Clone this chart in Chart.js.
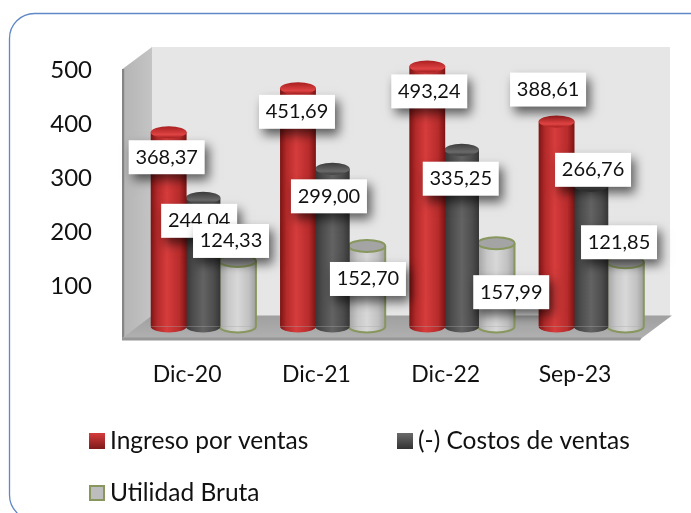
<!DOCTYPE html>
<html><head><meta charset="utf-8">
<style>html,body{margin:0;padding:0;background:#fff}#w{width:691px;height:513px;position:relative}canvas{display:block}</style>
<script src="https://cdn.jsdelivr.net/npm/chart.js@4/dist/chart.umd.min.js"></script>
</head><body><div id="w"><canvas id="c" width="691" height="513"></canvas></div>
<script>
const categories = ['Dic-20','Dic-21','Dic-22','Sep-23'];
const ingreso = [368.37,451.69,493.24,388.61];
const costos = [244.04,299.00,335.25,266.76];
const utilidad = [124.33,152.70,157.99,121.85];
const tickValues = [100,200,300,400,500];
const seriesNames = ['Ingreso por ventas','(-) Costos de ventas','Utilidad Bruta'];
// label box offsets from each bar's top-centre
const labelOffsets = [
  [[-2,25],[-1,23.5],[2,25],[-8.5,-32]],
  [[-4,23],[-3.5,27.5],[-1,29],[2,-16]],
  [[-6.6,-20],[1,33],[15,49],[-6.5,-20]]
];
const looks = [
  {stops:[[0,'#7d1414'],[.18,'#b32a2a'],[.45,'#d63c3c'],[.8,'#b82c2c'],[1,'#7d1414']],cap:['#a81f1f','#e04444'],edge:null},
  {stops:[[0,'#363636'],[.2,'#4c4c4c'],[.5,'#636363'],[.8,'#4e4e4e'],[1,'#363636']],cap:['#3c3c3c','#6a6a6a'],edge:null},
  {stops:[[0,'#a3a3a3'],[.25,'#c8c8c8'],[.5,'#d8d8d8'],[.8,'#c2c2c2'],[1,'#a0a0a0']],cap:['#8f8f8f','#a4a4a4'],edge:'#87975e'}
];
const FONT='Lato, Carlito, sans-serif';
const RY=6;

const scene = {
  id:'scene',
  beforeDraw(chart){
    const c=chart.ctx; c.save();
    c.fillStyle='#fff'; c.fillRect(0,0,691,513);
    // card
    c.strokeStyle='#5f88c6'; c.lineWidth=1.3;
    c.beginPath(); c.roundRect(9.5,13.5,760,506.5,25); c.stroke();
    // back wall
    c.fillStyle='#e6e6e6'; c.fillRect(152,47,518,270);
    // left wall
    let g=c.createLinearGradient(122,0,152,0); g.addColorStop(0,'#b4b4b4'); g.addColorStop(1,'#c4c4c4');
    c.fillStyle=g; c.beginPath(); c.moveTo(122.5,69); c.lineTo(152,47); c.lineTo(152,316); c.lineTo(122.5,338); c.closePath(); c.fill();
    c.fillStyle='#858585'; c.fillRect(122,69,2.2,270);
    // floor
    g=c.createLinearGradient(0,316,0,338); g.addColorStop(0,'#a0a0a0'); g.addColorStop(1,'#b0b0b0');
    c.fillStyle=g; c.beginPath(); c.moveTo(122,338); c.lineTo(152,315.5); c.lineTo(672,315.5); c.lineTo(642,338); c.closePath(); c.fill();
    c.fillStyle='#969696'; c.beginPath(); c.moveTo(122,337.5); c.lineTo(642,337.5); c.lineTo(640,340.5); c.lineTo(122,340.5); c.closePath(); c.fill();
    c.restore();
  },
  beforeDatasetDraw(chart,args){
    const look=looks[args.index];
    chart.getDatasetMeta(args.index).data.forEach(b=>{
      const g=chart.ctx.createLinearGradient(b.x-b.width/2,0,b.x+b.width/2,0);
      look.stops.forEach(s=>g.addColorStop(s[0],s[1]));
      b.options=Object.assign(Object.create(b.options),{backgroundColor:g});
    });
  },
  afterDatasetDraw(chart,args){
    const c=chart.ctx, look=looks[args.index];
    chart.getDatasetMeta(args.index).data.forEach(b=>{
      const rx=b.width/2;
      c.save();
      // rounded foot
      const g=c.createLinearGradient(b.x-rx,0,b.x+rx,0);
      look.stops.forEach(s=>g.addColorStop(s[0],s[1]));
      c.fillStyle=g;
      c.beginPath(); c.ellipse(b.x,b.base,rx,RY,0,0,Math.PI); c.closePath(); c.fill();
      if(look.edge){
        c.strokeStyle=look.edge; c.lineWidth=2;
        c.beginPath(); c.moveTo(b.x-rx,b.y); c.lineTo(b.x-rx,b.base); c.ellipse(b.x,b.base,rx,RY,0,Math.PI,0,true); c.lineTo(b.x+rx,b.y); c.stroke();
      }
      // top cap
      const t=c.createLinearGradient(0,b.y-RY,0,b.y+RY);
      t.addColorStop(0,look.cap[0]); t.addColorStop(.7,look.cap[1]); t.addColorStop(1,look.cap[0]);
      c.fillStyle=look.edge?look.cap[1]:t;
      c.beginPath(); c.ellipse(b.x,b.y,rx,RY,0,0,Math.PI*2); c.fill();
      if(look.edge){c.strokeStyle=look.edge; c.lineWidth=2; c.stroke();}
      c.restore();
    });
  },
  afterDatasetsDraw(chart){
    const c=chart.ctx;
    // data labels: white boxes with a soft shadow, in series order
    chart.data.datasets.forEach((ds,di)=>{
      chart.getDatasetMeta(di).data.forEach((b,i)=>{
        const o=labelOffsets[di][i], cx=b.x+o[0], cy=b.y+o[1];
        c.save();
        c.shadowColor='rgba(0,0,0,.6)'; c.shadowBlur=10; c.shadowOffsetX=4; c.shadowOffsetY=6;
        c.fillStyle='#fff'; c.fillRect(cx-38,cy-17,76,34);
        c.restore();
        c.save();
        c.fillStyle='#111'; c.font='20px '+FONT; c.textAlign='center'; c.textBaseline='middle';
        c.fillText(ds.data[i].toFixed(2).replace('.',','),cx,cy);
        c.restore();
      });
    });
    // legend
    const spots=[[89,441],[397,441],[89,493]];
    chart.data.datasets.forEach((ds,di)=>{
      const [x,y]=spots[di], look=looks[di];
      c.save();
      const g=c.createLinearGradient(0,y-8,0,y+8);
      if(di===2){g.addColorStop(0,'#bdbdbd');g.addColorStop(1,'#bdbdbd');}
      else if(di===0){g.addColorStop(0,'#d63c3c');g.addColorStop(1,'#7d1a1a');}
      else {g.addColorStop(0,'#6a6a6a');g.addColorStop(1,'#333');}
      c.fillStyle=g; c.fillRect(x,y-8,16,16);
      if(look.edge){c.strokeStyle=look.edge;c.lineWidth=2;c.strokeRect(x+1,y-7,14,14);}
      c.fillStyle='#111'; c.font='24.5px '+FONT; c.textAlign='left'; c.textBaseline='middle';
      c.fillText(ds.label,x+21,y);
      c.restore();
    });
  }
};

new Chart(document.getElementById('c'),{
  type:'bar',
  data:{labels:categories,datasets:[
    {label:seriesNames[0],data:ingreso,backgroundColor:'#c22f2f',barPercentage:1.04,categoryPercentage:.8},
    {label:seriesNames[1],data:costos,backgroundColor:'#555',barPercentage:1,categoryPercentage:.8},
    {label:seriesNames[2],data:utilidad,backgroundColor:'#ccc',barPercentage:1.06,categoryPercentage:.8}
  ]},
  options:{
    responsive:false,animation:false,
    layout:{padding:{top:47,right:35.3,left:0,bottom:0}},
    plugins:{legend:{display:false},title:{display:false},tooltip:{enabled:false}},
    scales:{
      x:{grid:{display:false,drawTicks:false},border:{display:false},
        afterFit:s=>{s.height=186.5;s.paddingLeft=0;s.paddingRight=0;},
        ticks:{color:'#111',font:{family:FONT,size:23},padding:34,labelOffset:-16,maxRotation:0}},
      y:{display:false,min:0,max:530},
      yLabels:{position:'left',min:25.9,max:543.5,grid:{display:false,drawTicks:false},border:{display:false},
        afterFit:s=>{s.width=138.5;s.paddingTop=0;s.paddingBottom=0;},
        afterBuildTicks:s=>{s.ticks=tickValues.map(v=>({value:v}));},
        ticks:{color:'#111',font:{family:FONT,size:24},padding:46.5}}
    }
  },
  plugins:[scene]
});
</script></body></html>
